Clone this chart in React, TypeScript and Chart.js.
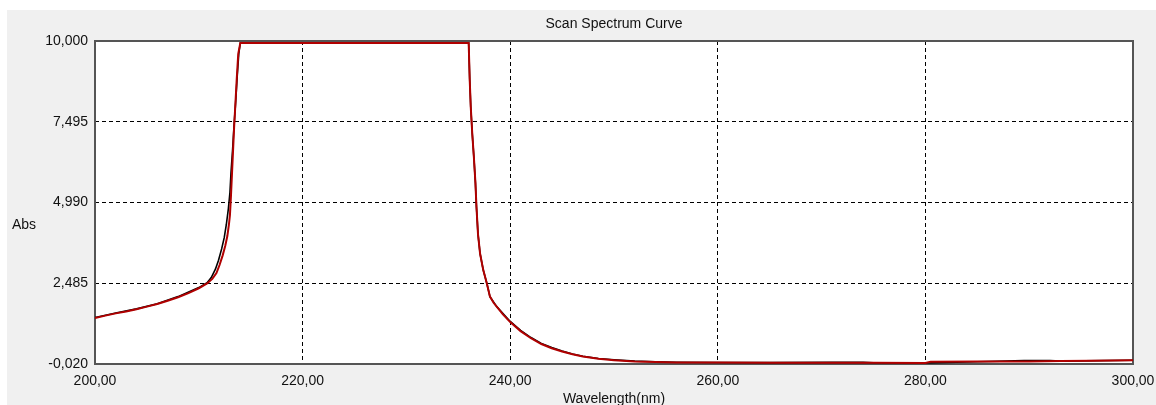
import React, { useEffect, useRef } from "react";
import { Chart, registerables } from "chart.js";

Chart.register(...registerables);

const TITLE = "Scan Spectrum Curve";
const X_TITLE = "Wavelength(nm)";
const Y_TITLE = "Abs";

const Y_TICKS = [-0.02, 2.485, 4.99, 7.495, 10];
const X_MIN = 200;
const X_MAX = 300;
const X_STEP = 20;

const redWavelength = [
  200, 201, 202, 203, 204, 205, 206, 207, 208, 209, 210, 210.8, 211.3, 211.7, 212.0, 212.3, 212.55, 212.75,
  212.9, 213.0, 213.1, 213.2, 213.3, 213.4, 213.5, 213.65, 213.8, 214.0, 236.0, 236.1, 236.2, 236.35, 236.5,
  236.65, 236.75, 236.9, 237.1, 237.4, 237.75, 238.05, 238.4, 238.7, 239.3, 240.0, 241.0, 242.0, 243.0, 244.0,
  245.0, 246.0, 247.0, 248.5, 250.0, 252.0, 254.0, 256.0, 260.0, 265.0, 270.0, 275.0, 280.0, 280.5, 285.0,
  290.0, 293.0, 296.0, 300.0,
];
const redAbs = [
  1.41, 1.48, 1.55, 1.61, 1.68, 1.76, 1.84, 1.94, 2.05, 2.18, 2.33, 2.48, 2.62, 2.8, 3.05, 3.35, 3.65, 3.95,
  4.3, 4.6, 5.2, 5.9, 6.6, 7.3, 7.9, 8.8, 9.6, 9.94, 9.94, 8.8, 7.95, 7.1, 6.4,
  5.6, 4.85, 4.0, 3.4, 2.9, 2.48, 2.07, 1.88, 1.76, 1.52, 1.28, 1.0, 0.78, 0.6, 0.47,
  0.37, 0.28, 0.21, 0.14, 0.1, 0.06, 0.04, 0.03, 0.025, 0.02, 0.02, 0.015, 0.012, 0.05, 0.055,
  0.06, 0.07, 0.08, 0.095,
];

const blackWavelength = [
  200, 202, 204, 206, 208, 210, 210.8, 211.2, 211.6, 211.9, 212.2, 212.45, 212.65, 212.85, 213.0, 213.1,
  213.25, 213.4, 213.55, 213.7, 213.85, 214.0, 236.0, 236.1, 236.2, 236.35, 236.5, 236.65, 236.75, 236.9,
  237.1, 237.4, 237.75, 238.05, 238.7, 240.0, 241.0, 242.0, 243.0, 244.0, 245.0, 246.0, 247.0, 248.5, 250.0,
  252.0, 254.0, 256.0, 260.0, 265.0, 271.0, 274.0, 275.0, 280.0, 285.0, 289.5, 292.0, 293.0, 300.0,
];
const blackAbs = [
  1.42, 1.56, 1.69, 1.85, 2.07, 2.35, 2.5, 2.66, 2.92, 3.2, 3.55, 3.9, 4.3, 4.8, 5.3, 5.9,
  6.6, 7.4, 8.1, 8.9, 9.6, 9.94, 9.94, 8.8, 7.95, 7.1, 6.4, 5.6, 4.85, 4.0,
  3.4, 2.9, 2.48, 2.07, 1.76, 1.3, 1.02, 0.8, 0.62, 0.49, 0.38, 0.29, 0.22, 0.15, 0.11,
  0.07, 0.05, 0.035, 0.028, 0.022, 0.03, 0.03, 0.018, 0.015, 0.05, 0.085, 0.085, 0.07, 0.095,
];

const FONT = "'Liberation Sans', Arial, sans-serif";

const fmtComma = (v: number, d: number) => Number(v).toFixed(d).replace(".", ",");

export default function App() {
  const ref = useRef<HTMLCanvasElement | null>(null);

  useEffect(() => {
    const canvas = ref.current;
    if (!canvas) return;

    const framePlugin = {
      id: "framePlugin",
      beforeDraw(chart: any) {
        const { ctx, chartArea: a, width, height } = chart;
        ctx.save();
        ctx.fillStyle = "#f0f0f0";
        ctx.fillRect(0, 0, width, height);
        ctx.fillStyle = "#ffffff";
        ctx.fillRect(a.left, a.top, a.right - a.left, a.bottom - a.top);
        ctx.restore();
      },
      beforeDatasetsDraw(chart: any) {
        const { ctx, chartArea: a } = chart;
        ctx.save();
        ctx.strokeStyle = "#555555";
        ctx.lineWidth = 2;
        ctx.strokeRect(a.left, a.top, a.right - a.left, a.bottom - a.top);
        ctx.restore();
      },
      afterDraw(chart: any) {
        const { ctx, chartArea: a } = chart;
        const cx = (a.left + a.right) / 2;
        ctx.save();
        ctx.fillStyle = "#111";
        ctx.font = `14px ${FONT}`;
        ctx.textBaseline = "middle";
        ctx.textAlign = "center";
        ctx.fillText(TITLE, cx, 14);
        ctx.fillText(X_TITLE, cx, 389);
        ctx.textAlign = "left";
        ctx.fillText(Y_TITLE, 5, 215);
        ctx.restore();
      },
    };

    const gridColor = (c: any) => {
      const n = c.scale.ticks.length;
      return c.index === 0 || c.index === n - 1 ? "rgba(0,0,0,0)" : "#000000";
    };

    const chart = new Chart(canvas, {
      type: "line",
      data: {
        datasets: [
          {
            label: "red",
            data: redWavelength.map((x, i) => ({ x, y: redAbs[i] })),
            borderColor: "#b00000",
            borderWidth: 2,
            pointRadius: 0,
            tension: 0,
          },
          {
            label: "black",
            data: blackWavelength.map((x, i) => ({ x, y: blackAbs[i] })),
            borderColor: "#000000",
            borderWidth: 1.6,
            pointRadius: 0,
            tension: 0,
          },
        ],
      },
      options: {
        animation: false,
        responsive: false,
        devicePixelRatio: 1,
        layout: { autoPadding: false, padding: { top: 31, right: 23, left: 0, bottom: 0 } },
        plugins: { legend: { display: false }, title: { display: false }, tooltip: { enabled: false } },
        scales: {
          x: {
            type: "linear",
            min: X_MIN,
            max: X_MAX,
            afterFit: (s: any) => {
              s.height = 41;
              s.paddingLeft = 0;
              s.paddingRight = 0;
              s.paddingTop = 0;
              s.paddingBottom = 0;
            },
            grid: { color: gridColor, lineWidth: 1, drawTicks: false },
            border: { display: false, dash: [4, 3] },
            ticks: {
              stepSize: X_STEP,
              autoSkip: false,
              maxRotation: 0,
              padding: 9,
              color: "#111",
              font: { family: FONT, size: 14 },
              callback: (v: any) => fmtComma(v, 2),
            },
          },
          y: {
            type: "linear",
            min: -0.02,
            max: 10,
            afterFit: (s: any) => {
              s.width = 88;
              s.paddingLeft = 0;
              s.paddingRight = 0;
              s.paddingTop = 0;
              s.paddingBottom = 0;
            },
            afterBuildTicks: (s: any) => {
              s.ticks = Y_TICKS.map((value) => ({ value }));
            },
            grid: { color: gridColor, lineWidth: 1, drawTicks: false },
            border: { display: false, dash: [4, 3] },
            ticks: {
              autoSkip: false,
              padding: 7,
              color: "#111",
              font: { family: FONT, size: 14 },
              callback: (v: any) => fmtComma(v, 3),
            },
          },
        },
      },
      plugins: [framePlugin],
    } as any);

    return () => chart.destroy();
  }, []);

  return (
    <div style={{ position: "fixed", left: 0, top: 0, width: 1156, height: 405, background: "#ffffff", overflow: "hidden" }}>
      <canvas ref={ref} width={1149} height={395} style={{ position: "absolute", left: 7, top: 10, width: 1149, height: 395 }} />
    </div>
  );
}
